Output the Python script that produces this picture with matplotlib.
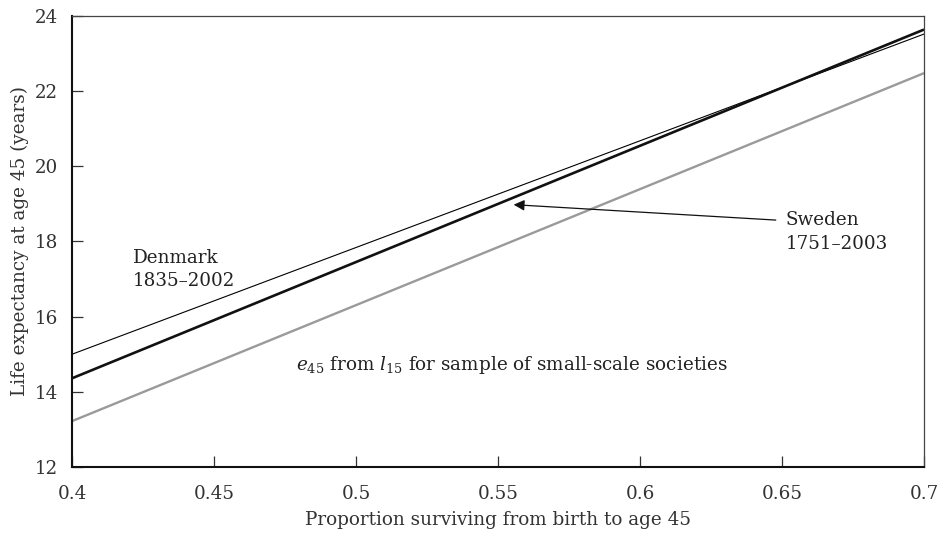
import matplotlib.pyplot as plt

# dados
prop_sobrev = [0.4, 0.7]
denmark = [15.0, 23.52]
sweden = [14.36, 23.64]
pequenas = [13.22, 22.48]

xticks = [0.4, 0.45, 0.5, 0.55, 0.6, 0.65, 0.7]
xtick_labels = ['0.4', '0.45', '0.5', '0.55', '0.6', '0.65', '0.7']
yticks = [12, 14, 16, 18, 20, 22, 24]

plt.rcParams['font.family'] = 'DejaVu Serif'
plt.rcParams['font.size'] = 13.2
plt.rcParams['mathtext.fontset'] = 'dejavuserif'

fig = plt.figure(figsize=(9.45, 5.39), dpi=100)
ax = fig.add_axes([0.0762, 0.1336, 0.9016, 0.8367])

ax.plot(prop_sobrev, pequenas, color='#9a9a9a', lw=1.7, solid_capstyle='butt')
ax.plot(prop_sobrev, denmark, color='black', lw=0.8)
ax.plot(prop_sobrev, sweden, color='#111111', lw=1.9, solid_capstyle='butt')

ax.set_xlim(0.4, 0.7)
ax.set_ylim(12, 24)
ax.set_xticks(xticks)
ax.set_xticklabels(xtick_labels)
ax.set_yticks(yticks)
ax.tick_params(direction='in', length=8, width=0.9, color='#333333', labelcolor='#333333')
ax.tick_params(axis='x', pad=13)
ax.tick_params(axis='y', pad=10)

for lado in ['left', 'bottom']:
    ax.spines[lado].set_linewidth(1.5)
    ax.spines[lado].set_color('#111111')
for lado in ['top', 'right']:
    ax.spines[lado].set_linewidth(0.9)
    ax.spines[lado].set_color('#444444')

ax.set_xlabel('Proportion surviving from birth to age 45', color='#333333', labelpad=6)
ax.set_ylabel('Life expectancy at age 45 (years)', color='#333333', labelpad=4)

ax.text(0.4215, 17.26, 'Denmark\n1835\u20132002', color='#222222', va='center', ha='left',
        linespacing=1.4)
ax.text(0.6514, 18.25, 'Sweden\n1751\u20132003', color='#222222', va='center', ha='left',
        linespacing=1.4)
ax.annotate('', xy=(0.5555, 18.98), xytext=(0.6478, 18.57),
            arrowprops=dict(arrowstyle='-|>', color='#111111', lw=0.9,
                            mutation_scale=16, shrinkA=0, shrinkB=0))
ax.text(0.479, 14.71, r'$e_{45}$ from $l_{15}$ for sample of small-scale societies',
        color='#222222', va='center', ha='left')

fig.savefig('out.png', dpi=100)
